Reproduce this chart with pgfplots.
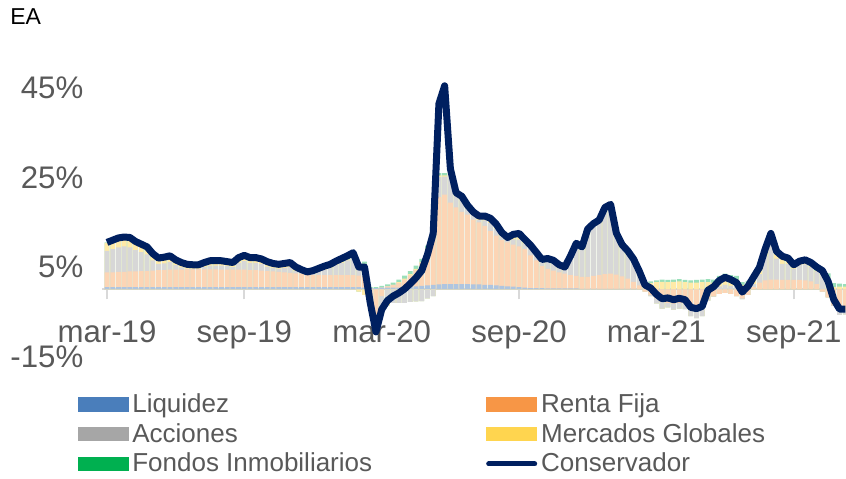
\documentclass[border=0pt]{standalone}
\usepackage{pgfplots}
\usepackage{pgfplotstable}
\pgfplotsset{compat=1.18}
\usepackage{fontspec}
\setmainfont{Liberation Sans}
\definecolor{lqL}{HTML}{4A7EBB}
\definecolor{rfL}{HTML}{F79646}
\definecolor{acL}{HTML}{A6A6A6}
\definecolor{mgL}{HTML}{FFD54F}
\definecolor{fiL}{HTML}{00B050}
\definecolor{consC}{HTML}{002060}
\colorlet{lqB}{lqL!45!white}
\colorlet{rfB}{rfL!40!white}
\colorlet{acB}{acL!45!white}
\colorlet{mgB}{mgL!50!white}
\colorlet{fiB}{fiL!40!white}
\definecolor{txt}{HTML}{595959}
\definecolor{axc}{HTML}{D9D9D9}

\pgfplotstableread{
m liq rf acc mg fi cons
0 0.5 3.3 4.8 1.8 0.1 10.5
0.25 0.5 3.3 5.2 1.9 0.1 11.0
0.5 0.5 3.4 5.5 2.0 0.1 11.5
0.75 0.5 3.4 5.7 2.0 0.1 11.7
1 0.5 3.5 5.4 2.1 0.1 11.6
1.25 0.5 3.5 4.8 1.8 0.1 10.7
1.5 0.5 3.6 4.2 1.7 0.1 10.1
1.75 0.5 3.6 3.7 1.6 0.1 9.5
2 0.5 3.7 2.3 1.4 0.1 8.0
2.25 0.5 3.8 1.4 1.2 0.1 7.0
2.5 0.5 3.8 1.5 1.3 0.1 7.2
2.75 0.5 3.9 1.7 1.3 0.1 7.5
3 0.5 3.9 1.0 1.1 0.1 6.6
3.25 0.5 3.9 0.5 1.0 0.1 6.0
3.5 0.5 4.0 0.1 0.9 0.1 5.6
3.75 0.5 4.0 0.1 0.8 0.1 5.5
4 0.5 4.0 0.1 0.8 0.1 5.5
4.25 0.5 4.0 0.5 0.9 0.1 6.0
4.5 0.5 4.0 0.8 1.0 0.1 6.4
4.75 0.5 4.0 0.8 1.0 0.1 6.4
5 0.5 3.9 0.9 1.0 0.1 6.4
5.25 0.5 3.9 0.8 0.9 0.1 6.2
5.5 0.5 3.9 0.6 0.9 0.1 6.0
5.75 0.5 3.9 1.5 1.1 0.1 7.1
6 0.5 3.9 1.9 1.2 0.1 7.6
6.25 0.5 3.8 1.6 1.1 0.1 7.1
6.5 0.5 3.8 1.6 1.1 0.1 7.1
6.75 0.5 3.7 1.5 1.0 0.1 6.8
7 0.5 3.6 1.0 1.0 0.1 6.2
7.25 0.5 3.5 0.8 0.9 0.1 5.8
7.5 0.5 3.4 0.7 0.9 0.1 5.6
7.75 0.5 3.3 1.0 0.9 0.1 5.8
8 0.5 3.2 1.3 0.9 0.1 6.0
8.25 0.5 3.1 0.5 0.8 0.1 5.0
8.5 0.5 3.0 0.2 0.6 0.1 4.4
8.75 0.5 2.7 0.1 0.4 0.2 3.9
9 0.5 2.7 0.4 0.4 0.2 4.2
9.25 0.5 2.7 0.8 0.4 0.3 4.7
9.5 0.5 2.7 1.2 0.4 0.4 5.2
9.75 0.5 2.7 1.6 0.3 0.5 5.6
10 0.5 2.7 2.2 0.3 0.6 6.3
10.25 0.5 2.7 2.7 0.3 0.7 6.9
10.5 0.5 2.7 3.3 0.2 0.8 7.5
10.75 0.5 2.7 4.0 0.2 0.8 8.2
11 0.5 2.6 1.8 -0.5 0.6 5.0
11.25 0.4 2.5 2.8 -1.2 0.5 5.0
11.5 0.3 -1.5 -0.5 -1.5 0.2 -3.0
11.75 0.3 -5.5 -2.8 -1.7 0.2 -9.5
12 0.4 -1.5 -3.0 -0.8 0.4 -4.5
12.25 0.4 0.3 -3.2 -0.4 0.4 -2.5
12.5 0.4 0.6 -3.0 0.0 0.5 -1.5
12.75 0.4 1.0 -3.0 0.2 0.6 -0.8
13 0.5 1.6 -3.0 0.3 0.7 0.1
13.25 0.6 2.5 -2.8 0.3 0.7 1.3
13.5 0.7 3.6 -2.7 0.3 0.7 2.6
13.75 0.8 5.0 -2.6 0.3 0.7 4.2
14 0.9 8.0 -2.0 0.3 0.6 7.8
14.25 1.0 12.0 -1.5 0.4 0.6 12.5
14.5 1.1 19.5 4.5 0.4 0.5 41.5
14.75 1.2 20.0 4.0 0.3 0.5 45.5
15 1.2 18.2 6.8 0.4 0.4 27.0
15.25 1.2 17.1 2.6 0.4 0.3 21.6
15.5 1.2 16.1 2.8 0.5 0.2 20.8
15.75 1.2 15.5 1.4 0.5 0.2 18.8
16 1.1 14.5 1.0 0.6 0.1 17.3
16.25 1.1 13.9 0.5 0.8 0.1 16.4
16.5 1.0 13.2 1.2 0.9 0.1 16.4
16.75 1.0 12.0 1.8 1.0 0.1 15.9
17 0.9 11.1 1.5 1.0 0.1 14.6
17.25 0.8 10.2 1.0 0.6 0.1 12.7
17.5 0.7 9.8 0.7 0.3 0.1 11.6
17.75 0.6 9.4 1.2 1.0 0.1 12.3
18 0.5 9.1 1.5 1.3 0.1 12.5
18.25 0.4 8.6 1.3 0.8 0.1 11.2
18.5 0.3 7.3 1.7 0.5 0.1 9.9
18.75 0.3 6.2 1.5 0.3 0.0 8.3
19 0.3 4.9 1.4 0.1 0.0 6.7
19.25 0.2 4.4 2.2 0.1 0.0 6.9
19.5 0.2 4.0 2.2 0.1 0.0 6.5
19.75 0.2 3.6 1.7 0.0 0.0 5.5
20 0.2 3.3 1.5 0.0 0.0 5.0
20.25 0.2 3.0 4.2 0.1 0.0 7.5
20.5 0.2 2.8 7.2 0.1 0.0 10.3
20.75 0.1 2.7 6.6 0.1 0.0 9.5
21 0.1 2.7 10.6 0.1 0.0 13.5
21.25 0.1 2.9 11.6 0.1 0.0 14.7
21.5 0.1 3.1 12.2 0.1 0.0 15.5
21.75 0.1 3.3 14.8 0.1 0.0 18.3
22 0.1 3.4 15.4 0.1 0.0 19.0
22.25 0.1 3.2 9.1 0.2 0.0 12.6
22.5 0.1 2.8 6.9 0.2 0.0 10.0
22.75 0.1 2.3 5.9 0.2 0.1 8.6
23 0.1 1.6 4.7 0.3 0.1 6.8
23.25 0.0 0.9 2.5 0.5 0.2 4.1
23.5 0.0 -0.5 0.2 1.0 0.3 1.0
23.75 0.0 -1.2 -0.3 1.4 0.4 0.3
24 0.0 -2.0 -1.1 1.6 0.4 -1.1
24.25 0.0 -2.8 -1.5 1.7 0.5 -2.1
24.5 0.0 -3.0 -1.0 1.6 0.5 -1.9
24.75 0.0 -3.2 -1.3 1.7 0.5 -2.3
25 0.0 -3.0 -1.3 1.8 0.5 -2.0
25.25 0.0 -3.1 -1.3 1.6 0.5 -2.3
25.5 0.0 -3.5 -2.5 1.5 0.5 -4.0
25.75 0.0 -3.6 -2.8 1.5 0.6 -4.3
26 0.0 -3.4 -2.6 1.6 0.6 -3.8
26.25 0.0 -2.0 -0.5 1.6 0.7 -0.2
26.5 0.0 -1.5 -0.1 1.5 0.7 0.6
26.75 0.0 -1.0 0.7 1.5 0.8 2.0
27 0.0 -0.8 1.0 1.6 0.9 2.7
27.25 0.0 -1.0 0.8 1.5 0.9 2.2
27.5 0.0 -1.5 0.8 1.4 0.8 1.5
27.75 0.0 -2.0 -0.2 1.0 0.6 -0.6
28 0.0 -1.2 0.3 1.0 0.6 0.7
28.25 0.0 0.5 0.7 1.0 0.6 2.8
28.5 0.0 1.5 1.9 1.0 0.5 4.9
28.75 0.0 2.0 5.5 1.0 0.5 9.0
29 0.0 2.2 9.1 0.8 0.4 12.5
29.25 0.0 2.2 4.7 1.2 0.4 8.5
29.5 0.0 2.1 3.6 1.3 0.4 7.4
29.75 0.0 2.1 3.6 0.9 0.4 7.0
30 0.0 2.1 2.5 0.5 0.4 5.5
30.25 0.0 2.1 3.3 0.4 0.5 6.3
30.5 0.0 2.0 3.6 0.3 0.7 6.6
30.75 0.0 1.8 3.2 0.2 0.8 6.0
31 0.0 1.2 2.8 0.2 0.8 5.0
31.25 0.0 -0.5 3.5 0.3 0.9 4.2
31.5 0.0 -1.8 2.2 0.4 1.0 1.8
31.75 0.0 -3.5 -0.2 0.5 0.9 -2.3
32 0.0 -4.5 -1.2 0.6 0.7 -4.4
32.25 0.0 -4.6 -1.0 0.6 0.6 -4.4
}\data

\begin{document}
\begin{tikzpicture}
\path[use as bounding box] (0,0) rectangle (423pt,-239pt);
\node[anchor=west, inner sep=0pt, font=\fontsize{11.5}{13}\selectfont, text=black] at (5pt,-8.5pt) {EA};
\begin{axis}[
  at={(51.2pt,-178.25pt)}, anchor=south west,
  scale only axis, width=372pt, height=134.25pt,
  xmin=-0.2, xmax=32.3, ymin=-15, ymax=45,
  clip=false,
  axis x line*=middle, axis y line*=left,
  x axis line style={draw=axc, line width=1pt},
  y axis line style={draw=none},
  xtick={0,6,12,18,24,30},
  xticklabels={mar-19,sep-19,mar-20,sep-20,mar-21,sep-21},
  ytick={-15,5,25,45},
  yticklabels={-15\%,5\%,25\%,45\%},
  xtick style={draw=axc, line width=1pt},
  ytick style={draw=none},
  xtick align=outside,
  major tick length=5pt,
  tick label style={font=\fontsize{15.6}{18}\selectfont, text=txt},
  xticklabel style={yshift=-7pt},
  yticklabel style={xshift=-6pt},
  legend columns=2,
  legend cell align=left,
  legend style={at={(-0.034,-0.121)}, anchor=north west, draw=none, fill=none,
    font=\fontsize{13}{15}\selectfont, text=txt, inner sep=0pt,
    row sep=0pt,
    /tikz/every even column/.append style={column sep=55pt}},
]
% positive stack
\addplot[ybar, bar width=0.21, bar shift=0pt, fill=fiB, draw=none, forget plot]
  table[x=m, y expr={max(\thisrow{liq},0)+max(\thisrow{rf},0)+max(\thisrow{acc},0)+max(\thisrow{mg},0)+max(\thisrow{fi},0)}] {\data};
\addplot[ybar, bar width=0.21, bar shift=0pt, fill=mgB, draw=none, forget plot]
  table[x=m, y expr={max(\thisrow{liq},0)+max(\thisrow{rf},0)+max(\thisrow{acc},0)+max(\thisrow{mg},0)}] {\data};
\addplot[ybar, bar width=0.21, bar shift=0pt, fill=acB, draw=none, forget plot]
  table[x=m, y expr={max(\thisrow{liq},0)+max(\thisrow{rf},0)+max(\thisrow{acc},0)}] {\data};
\addplot[ybar, bar width=0.21, bar shift=0pt, fill=rfB, draw=none, forget plot]
  table[x=m, y expr={max(\thisrow{liq},0)+max(\thisrow{rf},0)}] {\data};
\addplot[ybar, bar width=0.21, bar shift=0pt, fill=lqB, draw=none, forget plot]
  table[x=m, y expr={max(\thisrow{liq},0)}] {\data};
% negative stack
\addplot[ybar, bar width=0.21, bar shift=0pt, fill=fiB, draw=none, forget plot]
  table[x=m, y expr={min(\thisrow{liq},0)+min(\thisrow{rf},0)+min(\thisrow{acc},0)+min(\thisrow{mg},0)+min(\thisrow{fi},0)}] {\data};
\addplot[ybar, bar width=0.21, bar shift=0pt, fill=mgB, draw=none, forget plot]
  table[x=m, y expr={min(\thisrow{liq},0)+min(\thisrow{rf},0)+min(\thisrow{acc},0)+min(\thisrow{mg},0)}] {\data};
\addplot[ybar, bar width=0.21, bar shift=0pt, fill=acB, draw=none, forget plot]
  table[x=m, y expr={min(\thisrow{liq},0)+min(\thisrow{rf},0)+min(\thisrow{acc},0)}] {\data};
\addplot[ybar, bar width=0.21, bar shift=0pt, fill=rfB, draw=none, forget plot]
  table[x=m, y expr={min(\thisrow{liq},0)+min(\thisrow{rf},0)}] {\data};
% line
\addplot[color=consC, line width=3.5pt, line join=round, forget plot]
  table[x=m, y=cons] {\data};
% legend
\addlegendimage{legend image code/.code={\fill[lqL] (0pt,-3.3pt) rectangle (25pt,3.3pt);}}
\addlegendentry{Liquidez}
\addlegendimage{legend image code/.code={\fill[rfL] (0pt,-3.3pt) rectangle (25pt,3.3pt);}}
\addlegendentry{Renta Fija}
\addlegendimage{legend image code/.code={\fill[acL] (0pt,-3.3pt) rectangle (25pt,3.3pt);}}
\addlegendentry{Acciones}
\addlegendimage{legend image code/.code={\fill[mgL] (0pt,-3.3pt) rectangle (25pt,3.3pt);}}
\addlegendentry{Mercados Globales}
\addlegendimage{legend image code/.code={\fill[fiL] (0pt,-3.3pt) rectangle (25pt,3.3pt);}}
\addlegendentry{Fondos Inmobiliarios}
\addlegendimage{legend image code/.code={\draw[consC, line width=2.5pt, line cap=round] (1pt,0pt) -- (24pt,0pt);}}
\addlegendentry{Conservador}
\end{axis}
\end{tikzpicture}
\end{document}
